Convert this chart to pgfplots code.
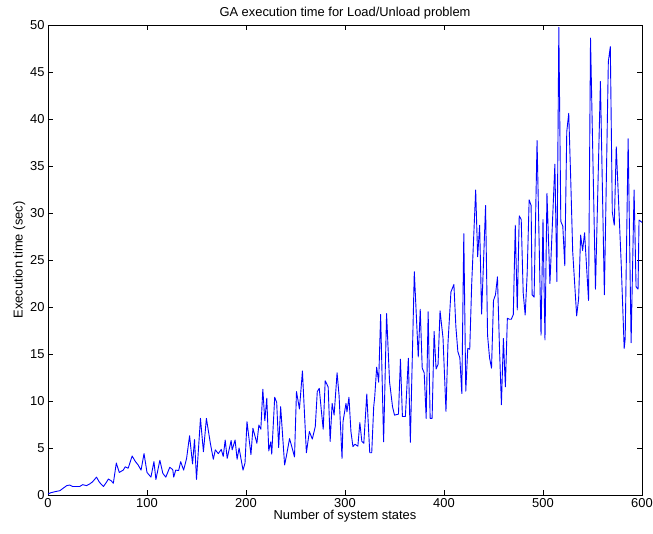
\documentclass[border=0pt]{standalone}
\usepackage{fontspec}
\setmainfont{Liberation Sans}
\usepackage{pgfplots}
\pgfplotsset{compat=1.18}

\begin{document}
\begin{tikzpicture}
\useasboundingbox (-48pt,-38pt) rectangle (605pt,495pt);
\begin{axis}[
  at={(0,0)}, anchor=south west,
  scale only axis,
  width=594pt, height=470pt,
  xmin=0, xmax=600, ymin=0, ymax=50,
  xtick={0,100,...,600},
  ytick={0,5,...,50},
  font=\fontsize{12.9}{15}\selectfont,
  /pgf/number format/assume math mode=true,
  tick align=inside,
  major tick length=5pt,
  axis line style={black, line width=0.7pt},
  tick style={black, line width=0.6pt},
  title={GA execution time for Load/Unload problem},
  title style={yshift=-4pt},
  xlabel={Number of system states},
  ylabel={Execution time (sec)},
  xlabel style={yshift=4pt},
  ylabel style={yshift=-2pt},
]
\addplot[color=blue, line width=0.9pt, line join=round] coordinates {
(0,0.1) (3,0.25) (7,0.35) (12,0.46) (15,0.7) (19,1.0) (22,1.06) (25,0.9)
(29,0.9) (32,0.9) (35,1.1) (39,1.0) (42,1.17) (45,1.4) (49,1.9) (52,1.35)
(56,0.9) (59,1.35) (61,1.7) (64,1.5) (66,1.25) (69,3.4) (72,2.4) (76,2.65)
(78,3.0) (81,2.85) (85,4.15) (88,3.6) (91,3.2) (94,2.65) (97,4.4) (100,2.4)
(104,1.9) (107,3.55) (109,1.65) (113,3.7) (116,2.3) (119,1.9) (123,2.95) (126,2.7)
(127,1.9) (129,2.65) (132,2.6) (134,3.55) (137,2.65) (140,3.9) (143,6.3) (146,3.3)
(148,5.9) (150,1.65) (154,8.15) (157,4.6) (160,8.15) (164,5.5) (167,3.8) (169,4.8)
(172,4.4) (175,4.85) (177,4.1) (179,5.85) (181,3.9) (185,5.8) (186,4.8) (189,5.85)
(191,3.8) (193,5.0) (197,2.65) (199,3.4) (201,7.8) (205,4.3) (207,7.1) (211,5.5)
(213,7.45) (215,7.0) (217,11.25) (219,7.9) (221,10.3) (223,4.7) (225,5.65) (226,4.35)
(229,10.4) (231,9.85) (233,5.05) (235,9.4) (239,3.2) (241,4.25) (244,6.0) (247,4.85)
(249,4.05) (251,11.0) (254,9.15) (257,13.2) (258,11.0) (261,4.5) (264,6.75) (267,5.95)
(270,7.3) (272,11.0) (274,11.35) (276,9.1) (278,7.0) (280,12.15) (283,11.5) (285,5.7)
(287,9.75) (289,8.5) (292,13.0) (294,10.6) (297,3.9) (298,7.8) (301,9.75) (302,8.85)
(304,10.4) (306,6.75) (308,5.15) (310,5.4) (313,5.2) (315,7.7) (317,5.7) (319,5.5)
(322,10.75) (325,4.5) (327,4.5) (329,9.4) (330,10.4) (332,13.6) (334,12.0) (336,19.2)
(339,5.65) (342,19.3) (345,12.05) (348,9.4) (350,8.5) (354,8.6) (356,14.45) (358,8.35)
(361,8.35) (364,14.55) (366,5.6) (370,23.75) (374,14.7) (376,19.75) (378,13.5) (380,13.0)
(382,8.15) (384,19.5) (386,8.15) (388,8.15) (390,17.4) (392,13.4) (394,13.9) (396,19.6)
(399,16.7) (402,8.9) (404,16.1) (407,21.6) (410,22.4) (412,17.9) (414,15.25) (416,14.6)
(418,10.8) (420,27.8) (422,11.05) (424,15.6) (426,15.5) (428,22.5) (432,32.45) (434,25.35)
(436,28.7) (438,19.25) (442,30.8) (444,17.0) (446,14.6) (448,13.5) (450,20.7) (452,21.3)
(454,23.2) (456,15.8) (458,9.6) (460,16.65) (462,11.5) (464,18.8) (466,18.7) (468,18.7)
(470,19.2) (472,28.7) (474,19.7) (476,29.7) (478,29.3) (480,21.5) (482,19.15) (484,23.5)
(486,31.4) (488,30.8) (489,21.3) (491,21.05) (494,37.7) (498,17.0) (500,29.3) (502,16.5)
(504,32.1) (507,22.5) (512,35.2) (514,22.7) (516,49.75) (518,29.1) (520,28.6) (522,24.4)
(524,38.65) (526,40.6) (528,33.6) (530,25.9) (534,19.05) (536,20.9) (538,27.65) (540,26.0)
(542,27.9) (546,20.7) (548,48.6) (553,21.9) (558,44.0) (562,21.3) (566,46.1) (568,47.7)
(570,30.1) (572,28.7) (574,37.05) (579,24.6) (582,15.6) (583,16.6) (586,37.9) (589,16.2)
(592,32.45) (594,22.15) (596,21.9) (597,29.25) (600,29.0)
};
\end{axis}
\end{tikzpicture}
\end{document}
